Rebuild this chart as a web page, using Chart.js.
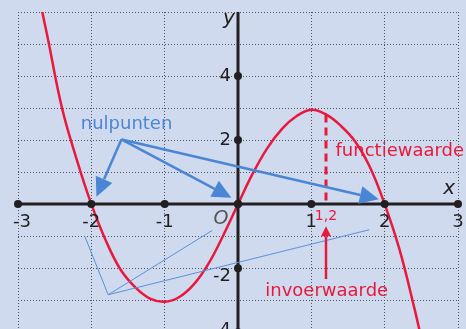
<!DOCTYPE html>
<html>
<head>
<meta charset="utf-8">
<script src="https://cdn.jsdelivr.net/npm/chart.js@4.4.0/dist/chart.umd.min.js"></script>
<style>
  html, body { margin: 0; padding: 0; background: #cfdaee; }
  canvas { display: block; }
</style>
</head>
<body>
<canvas id="graph" width="466" height="329"></canvas>
<script>
// points on the graph of the function
const curveX = [-2.72, -2.6, -2.4, -2.2, -2.0, -1.8, -1.6, -1.4, -1.2, -1.0, -0.8, -0.6, -0.4, -0.2, 0,
                0.2, 0.4, 0.6, 0.8, 1.0, 1.2, 1.4, 1.6, 1.8, 2.0, 2.2, 2.4, 2.52];
const curveY = [6.55, 5.25, 3.0, 1.4, 0, -1.15, -2.05, -2.6, -2.95, -3.05, -2.9, -2.5, -1.85, -0.97, 0,
                0.95, 1.75, 2.35, 2.75, 2.95, 2.8, 2.45, 1.95, 1.15, 0, -1.4, -3.2, -4.4];

// axes
const xTickValues = [-3, -2, -1, 0, 1, 2, 3];
const xTickLabels = ['-3', '-2', '-1', '', '1', '2', '3'];
const yTickValues = [4, 2, 0, -2, -4];
const yTickLabels = ['4', '2', '', '-2', '-4'];
const gridX = [-3, -2, -1, 0, 1, 2, 3];
const gridY = [-3, -2, -1, 0, 1, 2, 3, 4, 5, 6];

// input value and its function value
const inputX = 1.2;
const outputY = 2.8;
const inputLabel = '1,2';

// annotation anchors (graph units)
const zeroLabel = 'nulpunten';
const zeroLabelAt = [-1.52, 2.48];
const zeroArrowFrom = [-1.59, 2.02];
const zeroArrowTo = [[-1.93, 0.23], [-0.09, 0.2], [1.92, 0.15]];
const hubAt = [-1.77, -2.83];
const hubEnds = [[-2.09, -1.0], [-0.35, -0.82], [1.79, -0.8]];
const inputArrowFrom = [inputX, -2.34];
const inputArrowTo = [inputX, -0.69];
const inputText = 'invoerwaarde';
const inputTextAt = [1.21, -2.72];
const outputText = 'functiewaarde';
const outputTextAt = [1.33, 1.66];

const RED = '#e8193c';
const BLUE = '#4a86d4';
const INK = '#231f20';
const FONT = '"DejaVu Sans", Verdana, sans-serif';

const curve = curveX.map((x, i) => ({ x: x, y: curveY[i] }));

function arrow(ctx, x1, y1, x2, y2, head, half) {
    const a = Math.atan2(y2 - y1, x2 - x1);
    const bx = x2 - head * Math.cos(a), by = y2 - head * Math.sin(a);
    ctx.beginPath();
    ctx.moveTo(x1, y1);
    ctx.lineTo(bx, by);
    ctx.stroke();
    ctx.beginPath();
    ctx.moveTo(x2, y2);
    ctx.lineTo(bx + half * Math.sin(a), by - half * Math.cos(a));
    ctx.lineTo(bx - half * Math.sin(a), by + half * Math.cos(a));
    ctx.closePath();
    ctx.fill();
}

// coordinate axes with dots and numbers, drawn over the curve
const axesPlugin = {
    id: 'axes',
    afterDatasetsDraw(chart) {
        const { ctx, scales: { x, y } } = chart;
        const x0 = x.getPixelForValue(0);
        const y0 = y.getPixelForValue(0);
        ctx.save();
        ctx.strokeStyle = INK;
        ctx.fillStyle = INK;
        ctx.lineWidth = 3;
        ctx.beginPath();
        ctx.moveTo(x.left, y0);
        ctx.lineTo(x.right, y0);
        ctx.moveTo(x0, y.top);
        ctx.lineTo(x0, chart.height);
        ctx.stroke();

        ctx.font = '18px ' + FONT;
        ctx.textBaseline = 'middle';
        xTickValues.forEach((v, i) => {
            const px = x.getPixelForValue(v);
            ctx.beginPath();
            ctx.arc(px, y0, 4, 0, Math.PI * 2);
            ctx.fill();
            const w = ctx.measureText(xTickLabels[i]).width;
            const cx = Math.min(Math.max(px, 13 + w / 2), chart.width - 2 - w / 2);
            ctx.textAlign = 'center';
            ctx.fillText(xTickLabels[i], cx, y0 + 18);
        });
        yTickValues.forEach((v, i) => {
            const py = y.getPixelForValue(v);
            ctx.beginPath();
            ctx.arc(x0, py, 4, 0, Math.PI * 2);
            ctx.fill();
            ctx.textAlign = 'right';
            const ly = v < 0 ? Math.min(py + 8, chart.height + 1) : py;
            ctx.fillText(yTickLabels[i], x0 - 7, ly);
        });

        ctx.font = 'italic 20px ' + FONT;
        ctx.textAlign = 'center';
        ctx.fillText('x', x.getPixelForValue(2.88), y0 - 15);
        ctx.fillText('y', x0 - 9, y.top + 7);
        ctx.fillStyle = '#555';
        ctx.font = 'italic 19px ' + FONT;
        ctx.fillText('O', x0 - 17, y0 + 15);
        ctx.restore();
    }
};

// labels and arrows
const notesPlugin = {
    id: 'notes',
    afterDraw(chart) {
        const { ctx, scales: { x, y } } = chart;
        const P = p => [x.getPixelForValue(p[0]), y.getPixelForValue(p[1])];
        ctx.save();

        // thin pointer lines
        ctx.strokeStyle = '#5b8fd8';
        ctx.lineWidth = 1;
        const hub = P(hubAt);
        hubEnds.forEach(e => {
            const q = P(e);
            ctx.beginPath();
            ctx.moveTo(hub[0], hub[1]);
            ctx.lineTo(q[0], q[1]);
            ctx.stroke();
        });

        // arrows to the zeros
        ctx.strokeStyle = BLUE;
        ctx.fillStyle = BLUE;
        ctx.lineWidth = 2.5;
        const from = P(zeroArrowFrom);
        zeroArrowTo.forEach(t => {
            const q = P(t);
            arrow(ctx, from[0], from[1], q[0], q[1], 19, 9);
        });
        ctx.font = '18px ' + FONT;
        ctx.textAlign = 'center';
        ctx.textBaseline = 'middle';
        const zl = P(zeroLabelAt);
        ctx.fillText(zeroLabel, zl[0], zl[1]);

        // input arrow and texts
        ctx.strokeStyle = RED;
        ctx.fillStyle = RED;
        ctx.lineWidth = 2.5;
        const a = P(inputArrowFrom), b = P(inputArrowTo);
        arrow(ctx, a[0], a[1], b[0], b[1], 10, 5);
        const it = P(inputTextAt);
        ctx.fillText(inputText, it[0], it[1]);
        ctx.textAlign = 'left';
        const ot = P(outputTextAt);
        ctx.fillText(outputText, ot[0], ot[1]);
        ctx.textAlign = 'center';
        ctx.font = '14px ' + FONT;
        ctx.fillText(inputLabel, x.getPixelForValue(inputX), y.getPixelForValue(0) + 12);
        ctx.restore();
    }
};

new Chart(document.getElementById('graph'), {
    type: 'scatter',
    data: {
        datasets: [
            {
                data: curve,
                showLine: true,
                borderColor: RED,
                borderWidth: 2.5,
                pointRadius: 0,
                tension: 0.4
            },
            {
                data: [{ x: inputX, y: outputY }, { x: inputX, y: 0.1 }],
                showLine: true,
                borderColor: RED,
                borderWidth: 3,
                borderDash: [8, 5],
                pointRadius: 0
            }
        ]
    },
    options: {
        responsive: false,
        animation: false,
        events: [],
        layout: { padding: { left: 18, right: 8, top: 12, bottom: 0 } },
        plugins: { legend: { display: false }, tooltip: { enabled: false } },
        scales: {
            x: {
                type: 'linear',
                min: -3,
                max: 3,
                afterBuildTicks: s => { s.ticks = gridX.map(v => ({ value: v })); },
                ticks: { display: false },
                border: { display: false, dash: [1, 2] },
                grid: { color: '#505664', lineWidth: 1, drawTicks: false }
            },
            y: {
                type: 'linear',
                min: -3.9,
                max: 6,
                afterBuildTicks: s => { s.ticks = gridY.map(v => ({ value: v })); },
                ticks: { display: false },
                border: { display: false, dash: [1, 2] },
                grid: { color: '#505664', lineWidth: 1, drawTicks: false }
            }
        }
    },
    plugins: [axesPlugin, notesPlugin]
});
</script>
</body>
</html>
